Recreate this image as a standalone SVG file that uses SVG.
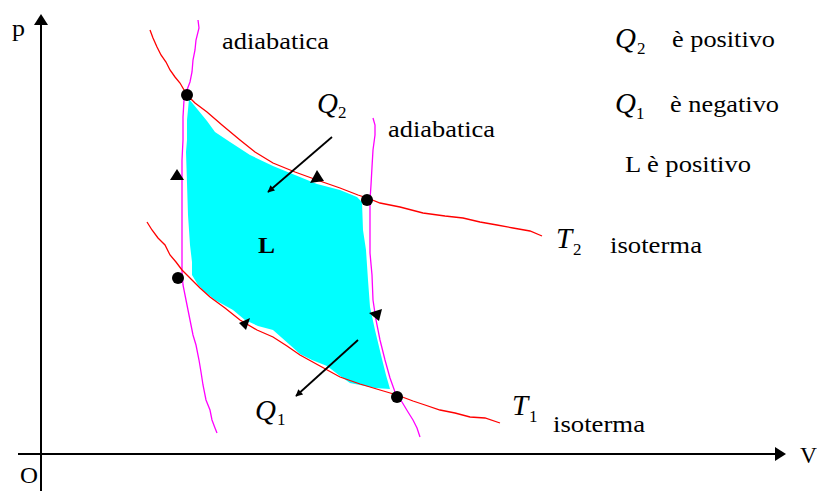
<svg xmlns="http://www.w3.org/2000/svg" width="817" height="491" viewBox="0 0 817 491">
<style>
.t{font-family:"Liberation Serif","Times New Roman",serif;font-size:23px;fill:#000}
.m{font-family:"Liberation Serif","Times New Roman",serif;font-size:29px;font-style:italic;fill:#000}
.s{font-family:"Liberation Serif","Times New Roman",serif;font-size:17px;fill:#000}
.iso{fill:none;stroke:#ff0000;stroke-width:1.3}
.adi{fill:none;stroke:#ff00ff;stroke-width:1.3}
.ax{fill:none;stroke:#000;stroke-width:2}
.arr{fill:none;stroke:#000;stroke-width:1.8}
.dot{fill:#000}
</style>
<defs>
<marker id="ah" viewBox="0 0 10 10" refX="9" refY="5" markerWidth="8" markerHeight="7" markerUnits="userSpaceOnUse" orient="auto"><path d="M0,0 L10,5 L0,10 z" fill="#000"/></marker>
</defs>
<g id="cycle-area">
<polygon fill="#00ffff" points="189,99 198,110 207,121 215,132 230,142 250,155 273,166 295,175 317,184 340,190 357,197 362,202 363,230 366,250 368,280 370,307 375,330 381,355 386,375 390,389 375,388 350,383 340,376 327,366 312,360 300,354 290,345 273,330 258,326 245,320 233,310 215,300 205,292 198,285 192,275 192,262 190,245 188,215 186,152 187,140 187,120"/>
<text class="t" x="258" y="253" font-weight="bold" textLength="17" lengthAdjust="spacingAndGlyphs">L</text>
</g>
<g id="axes">
<line class="ax" x1="41" y1="491" x2="41" y2="24"/>
<polygon points="41,14 34,25 48,25" fill="#000"/>
<line class="ax" x1="18" y1="454" x2="776" y2="454"/>
<polygon points="786,454 775,447 775,461" fill="#000"/>
<text class="t" x="12" y="36" textLength="13" lengthAdjust="spacingAndGlyphs">p</text>
<text class="t" x="800" y="463" textLength="17" lengthAdjust="spacingAndGlyphs">V</text>
<text class="t" x="20" y="483" textLength="18" lengthAdjust="spacingAndGlyphs">O</text>
</g>
<g id="adiabatic-left">
<polyline class="adi" points="198,20 199,28 196,40 195,50 193,60 192,72 190,82 187,90 184,100 183,117 183,140 182,160 182,200 182,240 182,272 183,285 186,300 190,320 193,335 196,345 199,360 201,372 203,385 206,400 210,410 212,420 215,428 217,433"/>
<text class="t" x="222" y="49" textLength="107" lengthAdjust="spacingAndGlyphs">adiabatica</text>
</g>
<g id="adiabatic-right">
<polyline class="adi" points="373,118 375,125 375,135 373,150 372,167 371,185 370,200 370,230 370,253 372,275 373,300 376,320 380,340 385,360 390,378 395,392 402,402 408,412 413,420 417,428 420,437"/>
<text class="t" x="388" y="137" textLength="107" lengthAdjust="spacingAndGlyphs">adiabatica</text>
</g>
<g id="isotherm-T2">
<polyline class="iso" points="150,30 153,38 157,47 161,55 166,62 170,70 175,77 180,83 187,95 195,103 207,112 222,125 240,140 255,152 273,163 295,172 317,180 340,188 358,195 370,199 380,203 400,207 423,213 445,216 463,218 480,222 497,225 513,228 530,231 542,236"/>
<text class="m" x="556" y="248">T</text><text class="s" x="573" y="255">2</text>
<text class="t" x="610" y="253" textLength="92" lengthAdjust="spacingAndGlyphs">isoterma</text>
</g>
<g id="isotherm-T1">
<polyline class="iso" points="147,222 152,230 158,238 165,245 170,255 176,262 182,270 192,280 200,288 210,297 225,308 240,320 257,330 273,337 287,346 300,355 320,366 340,377 360,384 380,390 397,395 413,401 425,405 440,410 455,413 470,417 485,418 500,423"/>
<text class="m" x="512" y="415">T</text><text class="s" x="529" y="422">1</text>
<text class="t" x="553" y="432" textLength="92" lengthAdjust="spacingAndGlyphs">isoterma</text>
</g>
<g id="states">
<circle class="dot" cx="187" cy="95" r="6"/>
<circle class="dot" cx="367" cy="200" r="6"/>
<circle class="dot" cx="178" cy="278" r="6"/>
<circle class="dot" cx="397" cy="397" r="6"/>
</g>
<g id="direction-marks">
<polygon points="177,169 170,180 184,180" fill="#000"/>
<polygon points="317,170 310,183 324,181" fill="#000"/>
<polygon points="369,313 382,309 379,321" fill="#000"/>
<polygon points="239,323 250,318 246,330" fill="#000"/>
</g>
<g id="heat-Q2">
<line class="arr" x1="332" y1="137" x2="268" y2="192" marker-end="url(#ah)"/>
<text class="m" x="317" y="113">Q</text><text class="s" x="338" y="118">2</text>
</g>
<g id="heat-Q1">
<line class="arr" x1="358" y1="340" x2="296" y2="396" marker-end="url(#ah)"/>
<text class="m" x="255" y="420">Q</text><text class="s" x="277" y="425">1</text>
</g>
<g id="legend">
<text class="m" x="615" y="48">Q</text><text class="s" x="637" y="54">2</text>
<text class="t" x="672" y="47" textLength="103" lengthAdjust="spacingAndGlyphs">è positivo</text>
<text class="m" x="615" y="113">Q</text><text class="s" x="636" y="119">1</text>
<text class="t" x="670" y="112" textLength="109" lengthAdjust="spacingAndGlyphs">è negativo</text>
<text class="t" x="625" y="172" textLength="126" lengthAdjust="spacingAndGlyphs">L è positivo</text>
</g>
</svg>
